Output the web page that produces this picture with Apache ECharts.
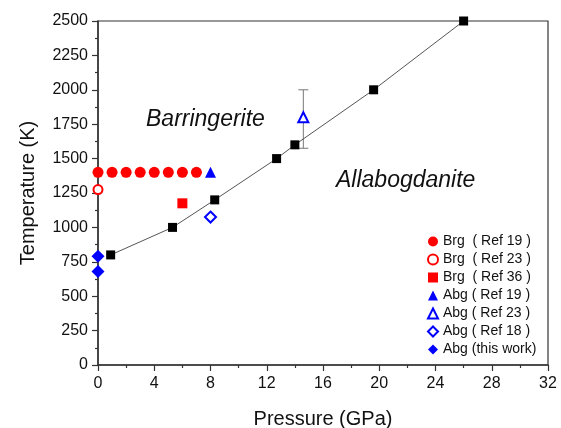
<!DOCTYPE html>
<html>
<head>
<meta charset="utf-8">
<script src="https://cdn.jsdelivr.net/npm/echarts@6/dist/echarts.min.js"></script>
<style>
  html, body { margin: 0; padding: 0; background: #fff; }
  #chart { width: 561px; height: 428px; }
</style>
</head>
<body>
<div id="chart"></div>
<script>
// phase boundary (black squares + line)
var boundaryP = [0.9, 5.3, 8.3, 12.7, 14.0, 19.6, 26.0];
var boundaryT = [800, 1000, 1200, 1500, 1600, 2000, 2500];

var brgRef19 = [[0, 1400], [1, 1400], [2, 1400], [3, 1400], [4, 1400], [5, 1400], [6, 1400], [7, 1400]];
var brgRef23 = [[0, 1275]];
var brgRef36 = [[6, 1175]];
var abgRef19 = [[8, 1400]];
var abgRef23 = [[14.6, 1800]];
var abgRef23Err = [[14.6, 1575, 2000]];
var abgRef18 = [[8, 1075]];
var abgThisWork = [[0, 790], [0, 680]];

var font = 'Liberation Sans, Arial, sans-serif';
var chart = echarts.init(document.getElementById('chart'));

var boundary = boundaryP.map(function (p, i) { return [p, boundaryT[i]]; });

function scatter(name, data, symbol, color, size) {
    return {
        name: name,
        type: 'scatter',
        data: data,
        symbol: symbol,
        symbolSize: size,
        clip: false,
        itemStyle: { color: color, borderWidth: 2, opacity: 1 },
        z: 5
    };
}

chart.setOption({
    animation: false,
    backgroundColor: '#fff',
    grid: { left: 98, right: 13, top: 21, bottom: 63, show: true, borderColor: '#333', borderWidth: 1.2,
            outerBoundsMode: 'none' },
    xAxis: {
        type: 'value', min: 0, max: 32, interval: 4,
        name: 'Pressure (GPa)', nameLocation: 'middle', nameGap: 44,
        nameTextStyle: { fontFamily: font, fontSize: 20, color: '#111' },
        axisLine: { show: true, lineStyle: { color: '#333', width: 1.5 } },
        axisTick: { show: true, length: 6, lineStyle: { color: '#333', width: 1.2 } },
        minorTick: { show: true, splitNumber: 2, length: 3, lineStyle: { color: '#333', width: 1.2 } },
        axisLabel: { fontFamily: font, fontSize: 16, color: '#111', margin: 11 },
        splitLine: { show: false }
    },
    yAxis: {
        type: 'value', min: 0, max: 2500, interval: 250,
        name: 'Temperature (K)', nameLocation: 'middle', nameGap: 60,
        nameTextStyle: { fontFamily: font, fontSize: 20, color: '#111' },
        axisLine: { show: true, lineStyle: { color: '#333', width: 1.5 } },
        axisTick: { show: true, length: 6, lineStyle: { color: '#333', width: 1.2 } },
        minorTick: { show: true, splitNumber: 2, length: 3, lineStyle: { color: '#333', width: 1.2 } },
        axisLabel: { fontFamily: font, fontSize: 16, color: '#111', margin: 10,
                     formatter: function (v) { return String(v); } },
        splitLine: { show: false }
    },
    legend: {
        orient: 'vertical', left: 422, top: 229,
        itemWidth: 10, itemHeight: 10, itemGap: 3,
        textStyle: { fontFamily: font, fontSize: 14, color: '#111', lineHeight: 15 },
        data: ['Brg  ( Ref 19 )', 'Brg  ( Ref 23 )', 'Brg  ( Ref 36 )', 'Abg ( Ref 19 )',
               'Abg ( Ref 23 )', 'Abg ( Ref 18 )', 'Abg (this work)']
    },
    graphic: [
        { type: 'text', left: 146, top: 108, style: { text: 'Barringerite', font: 'italic 23px ' + font, fill: '#111' } },
        { type: 'text', left: 336, top: 169, style: { text: 'Allabogdanite', font: 'italic 23px ' + font, fill: '#111' } }
    ],
    series: [
        {
            name: 'boundary', type: 'line', data: boundary,
            symbol: 'rect', symbolSize: 9,
            lineStyle: { color: '#555', width: 1 },
            itemStyle: { color: '#000' }, clip: false, z: 4
        },
        {
            name: 'err', type: 'custom', data: abgRef23Err, z: 3,
            renderItem: function (params, api) {
                var top = api.coord([api.value(0), api.value(2)]);
                var bot = api.coord([api.value(0), api.value(1)]);
                var w = 5;
                var st = { stroke: '#777', lineWidth: 1 };
                return {
                    type: 'group',
                    children: [
                        { type: 'line', shape: { x1: top[0], y1: top[1], x2: bot[0], y2: bot[1] }, style: st },
                        { type: 'line', shape: { x1: top[0] - w, y1: top[1], x2: top[0] + w, y2: top[1] }, style: st },
                        { type: 'line', shape: { x1: bot[0] - w, y1: bot[1], x2: bot[0] + w, y2: bot[1] }, style: st }
                    ]
                };
            }
        },
        scatter('Brg  ( Ref 19 )', brgRef19, 'circle', '#ff0000', 11),
        scatter('Brg  ( Ref 23 )', brgRef23, 'emptyCircle', '#ff0000', 9),
        scatter('Brg  ( Ref 36 )', brgRef36, 'rect', '#ff0000', 10),
        scatter('Abg ( Ref 19 )', abgRef19, 'triangle', '#0000ff', 11),
        scatter('Abg ( Ref 23 )', abgRef23, 'emptyTriangle', '#0000ff', 10),
        scatter('Abg ( Ref 18 )', abgRef18, 'emptyDiamond', '#0000ff', 11),
        scatter('Abg (this work)', abgThisWork, 'diamond', '#0000ff', 13)
    ]
});

window.addEventListener('resize', function () {
    chart.resize();
});
</script>
</body>
</html>
